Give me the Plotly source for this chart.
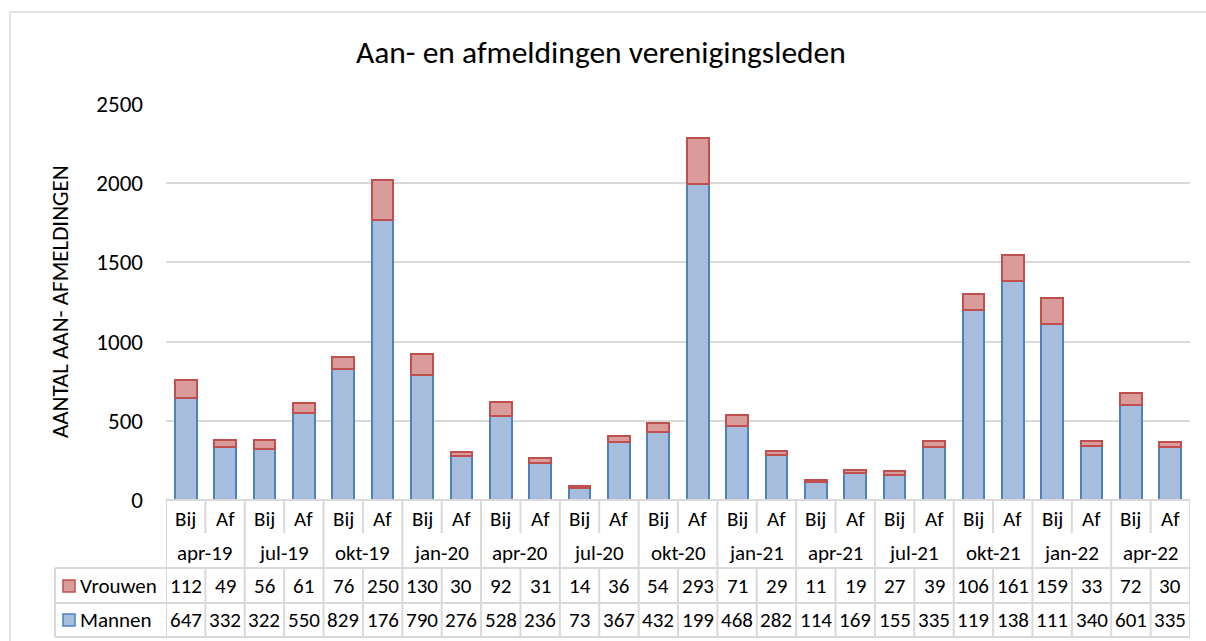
import plotly.graph_objects as go

# ---------------- data ----------------
months = ["apr-19", "jul-19", "okt-19", "jan-20", "apr-20", "jul-20", "okt-20",
          "jan-21", "apr-21", "jul-21", "okt-21", "jan-22", "apr-22"]
kinds = ["Bij", "Af"]
vrouwen = [112, 49, 56, 61, 76, 250, 130, 30, 92, 31, 14, 36, 54, 293,
           71, 29, 11, 19, 27, 39, 106, 161, 159, 33, 72, 30]
mannen = [647, 332, 322, 550, 829, 1769, 790, 276, 528, 236, 73, 367, 432, 1994,
          468, 282, 114, 169, 155, 335, 1197, 1383, 1114, 340, 601, 335]
y_ticks = [0, 500, 1000, 1500, 2000, 2500]

title = "Aan- en afmeldingen verenigingsleden"
y_title = "AANTAL AAN- AFMELDINGEN"

# ---------------- layout geometry ----------------
W, H = 1206, 641
L, R, T, B = 166, 1190, 104, 500  # plot area in pixels
FONT = "Calibri, Carlito, Lato, sans-serif"
GRID = "#D9D9D9"


def px_x(px):
    return (px - L) / (R - L)


def px_y(py):
    return (B - py) / (B - T)


n = len(vrouwen)
xs = list(range(n))

fig = go.Figure()
fig.add_bar(x=xs, y=mannen, name="Mannen", width=0.55,
            marker=dict(color="#A7BDDE", line=dict(color="#4F81BD", width=2)))
fig.add_bar(x=xs, y=vrouwen, name="Vrouwen", width=0.55,
            marker=dict(color="#D99C9B", line=dict(color="#C0504D", width=2)))

shapes = []
annotations = []

# outer chart border
shapes.append(dict(type="rect", xref="paper", yref="paper",
                   x0=px_x(10), x1=px_x(1212), y0=px_y(648), y1=px_y(12),
                   line=dict(color=GRID, width=1.5), layer="below"))

# table geometry (pixel rows)
row_top, row1_bot, row2_bot, row3_bot, row4_bot = 500, 538, 568, 603, 637
inner_tick_bot = 533
leg_left = 55

# horizontal lines of table
shapes.append(dict(type="line", xref="paper", yref="paper", x0=0, x1=1,
                   y0=px_y(row_top), y1=px_y(row_top), line=dict(color=GRID, width=2)))
for yy in (row2_bot, row3_bot, row4_bot):
    shapes.append(dict(type="line", xref="paper", yref="paper", x0=px_x(leg_left), x1=1,
                       y0=px_y(yy), y1=px_y(yy), line=dict(color=GRID, width=2)))

# vertical lines
for i in range(n + 1):
    xb = i - 0.5
    if i % 2 == 0:
        shapes.append(dict(type="line", xref="x", yref="paper", x0=xb, x1=xb,
                           y0=px_y(row4_bot), y1=px_y(row_top),
                           line=dict(color=GRID, width=2)))
    else:
        shapes.append(dict(type="line", xref="x", yref="paper", x0=xb, x1=xb,
                           y0=px_y(inner_tick_bot), y1=px_y(row_top),
                           line=dict(color=GRID, width=2)))
        shapes.append(dict(type="line", xref="x", yref="paper", x0=xb, x1=xb,
                           y0=px_y(row4_bot), y1=px_y(row2_bot),
                           line=dict(color=GRID, width=2)))
# legend column left edge
shapes.append(dict(type="line", xref="paper", yref="paper", x0=px_x(leg_left), x1=px_x(leg_left),
                   y0=px_y(row4_bot), y1=px_y(row2_bot), line=dict(color=GRID, width=2)))

TFS = 21
yc1, yc2, yc3, yc4 = px_y(519), px_y(553), px_y(586), px_y(620)


def cell_text(v):
    # the original data table cells are narrow and clip to 3 characters
    return str(v)[:3]


def ann(x, y, text, xref="x", xanchor="center", size=TFS, **kw):
    return dict(x=x, y=y, xref=xref, yref="paper", text=text, showarrow=False,
                xanchor=xanchor, yanchor="middle",
                font=dict(size=size, family=FONT, color="#000"), **kw)


for i in range(n):
    annotations.append(ann(i, yc1, kinds[i % 2]))
    annotations.append(ann(i, yc3, cell_text(vrouwen[i])))
    annotations.append(ann(i, yc4, cell_text(mannen[i])))
for g, m in enumerate(months):
    annotations.append(ann(2 * g + 0.5, yc2, m))

# legend keys inside table
for yc, py, fill, edge, label in ((yc3, 586, "#D99C9B", "#C0504D", "Vrouwen"),
                                  (yc4, 620, "#A7BDDE", "#4F81BD", "Mannen")):
    shapes.append(dict(type="rect", xref="paper", yref="paper",
                       x0=px_x(63), x1=px_x(75), y0=px_y(py + 6), y1=px_y(py - 6),
                       fillcolor=fill, line=dict(color=edge, width=1.5)))
    annotations.append(ann(px_x(78), yc, label, xref="paper", xanchor="left"))

# title & axis title
annotations.append(ann(px_x(601), px_y(52), title, xref="paper", size=31.5))
annotations.append(ann(px_x(60), px_y(302), y_title, xref="paper", size=23, textangle=-90))

fig.update_layout(
    width=W, height=H,
    margin=dict(l=L, r=W - R, t=T, b=H - B, pad=0),
    barmode="stack",
    showlegend=False,
    plot_bgcolor="white", paper_bgcolor="white",
    shapes=shapes, annotations=annotations,
    font=dict(family=FONT, color="#000"),
)
fig.update_xaxes(range=[-0.5, n - 0.5], showticklabels=False, showgrid=False,
                 zeroline=False, showline=False, ticks="")
fig.update_yaxes(range=[0, 2500], tickvals=y_ticks, showgrid=True, gridcolor=GRID,
                 gridwidth=2, zeroline=False, showline=False,
                 tickfont=dict(size=23, family=FONT, color="#000"),
                 ticklabelstandoff=22)

fig.write_html("out.html", config={"displayModeBar": False},
               post_script="document.body.style.margin='0';document.body.style.overflow='hidden';")
